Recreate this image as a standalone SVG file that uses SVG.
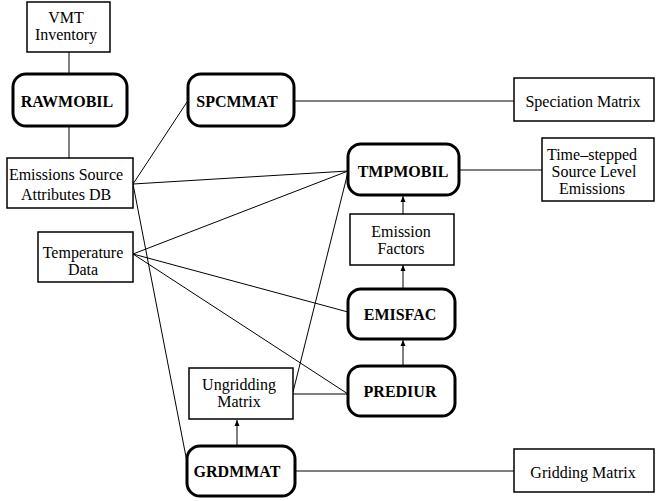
<svg xmlns="http://www.w3.org/2000/svg" width="664" height="501" viewBox="0 0 664 501">
<style>
.box{fill:#fff;stroke:#000;stroke-width:1.5}
.prog{fill:#fff;stroke:#000;stroke-width:3}
.t{font-family:"Liberation Serif","Times New Roman",serif;font-size:16px;text-anchor:middle;fill:#000}
.b{font-weight:bold}
.c{stroke:#000;stroke-width:1;fill:none}
</style>
<defs>
<marker id="ah" markerWidth="6" markerHeight="8" refX="6" refY="4" orient="auto" markerUnits="userSpaceOnUse">
<path d="M0,1.5 L6,4 L0,6.5 Z" fill="#000"/>
</marker>
</defs>
<rect width="664" height="501" fill="#fff"/>
<g id="connectors">
<line class="c" x1="69" y1="52" x2="69" y2="74"/>
<line class="c" x1="69" y1="126" x2="69" y2="158"/>
<line class="c" x1="133" y1="184" x2="187" y2="102"/>
<line class="c" x1="294" y1="101" x2="514" y2="101"/>
<line class="c" x1="133" y1="184" x2="348" y2="171"/>
<line class="c" x1="133" y1="184" x2="187" y2="462"/>
<line class="c" x1="133" y1="254" x2="348" y2="171"/>
<line class="c" x1="133" y1="254" x2="348" y2="312"/>
<line class="c" x1="133" y1="254" x2="348" y2="394"/>
<line class="c" x1="293" y1="392" x2="348" y2="172"/>
<line class="c" x1="293" y1="394" x2="348" y2="394"/>
<line class="c" x1="459" y1="170" x2="542" y2="170"/>
<line class="c" x1="295" y1="471" x2="514" y2="471"/>
<line class="c" x1="403" y1="214" x2="403" y2="196" marker-end="url(#ah)"/>
<line class="c" x1="403" y1="289" x2="403" y2="265" marker-end="url(#ah)"/>
<line class="c" x1="403" y1="366" x2="403" y2="340" marker-end="url(#ah)"/>
<line class="c" x1="237" y1="446" x2="237" y2="420" marker-end="url(#ah)"/>
</g>
<g id="vmt"><rect class="box" x="27" y="2" width="83" height="50"/><text class="t" x="66" y="23">VMT</text><text class="t" x="66" y="40">Inventory</text></g>
<g id="rawmobil"><rect class="prog" x="13" y="74" width="114" height="52" rx="13"/><text class="t b" x="67" y="107">RAWMOBIL</text></g>
<g id="esadb"><rect class="box" x="7" y="158" width="126" height="50"/><text class="t" x="66" y="180">Emissions Source</text><text class="t" x="66" y="200">Attributes DB</text></g>
<g id="spcmmat"><rect class="prog" x="188" y="74" width="106" height="52" rx="13"/><text class="t b" x="237" y="107">SPCMMAT</text></g>
<g id="specmat"><rect class="box" x="514" y="78" width="140" height="43"/><text class="t" x="583" y="107">Speciation Matrix</text></g>
<g id="tmpmobil"><rect class="prog" x="348" y="144" width="111" height="51" rx="13"/><text class="t b" x="403" y="177">TMPMOBIL</text></g>
<g id="timestepped"><rect class="box" x="542" y="138" width="112" height="63"/><text class="t" x="592" y="160">Time–stepped</text><text class="t" x="594" y="177">Source Level</text><text class="t" x="592" y="194">Emissions</text></g>
<g id="emisfactors"><rect class="box" x="350" y="214" width="104" height="51"/><text class="t" x="401" y="237">Emission</text><text class="t" x="401" y="254">Factors</text></g>
<g id="temperature"><rect class="box" x="38" y="232" width="95" height="50"/><text class="t" x="83" y="258">Temperature</text><text class="t" x="83" y="275">Data</text></g>
<g id="emisfac"><rect class="prog" x="348" y="289" width="107" height="50" rx="13"/><text class="t b" x="400" y="320">EMISFAC</text></g>
<g id="prediur"><rect class="prog" x="348" y="366" width="107" height="50" rx="13"/><text class="t b" x="400" y="397">PREDIUR</text></g>
<g id="ungridding"><rect class="box" x="189" y="368" width="104" height="51"/><text class="t" x="239" y="390">Ungridding</text><text class="t" x="239" y="407">Matrix</text></g>
<g id="grdmmat"><rect class="prog" x="187" y="446" width="108" height="50" rx="13"/><text class="t b" x="237" y="477">GRDMMAT</text></g>
<g id="gridmat"><rect class="box" x="514" y="449" width="140" height="43"/><text class="t" x="583" y="478">Gridding Matrix</text></g>
</svg>
